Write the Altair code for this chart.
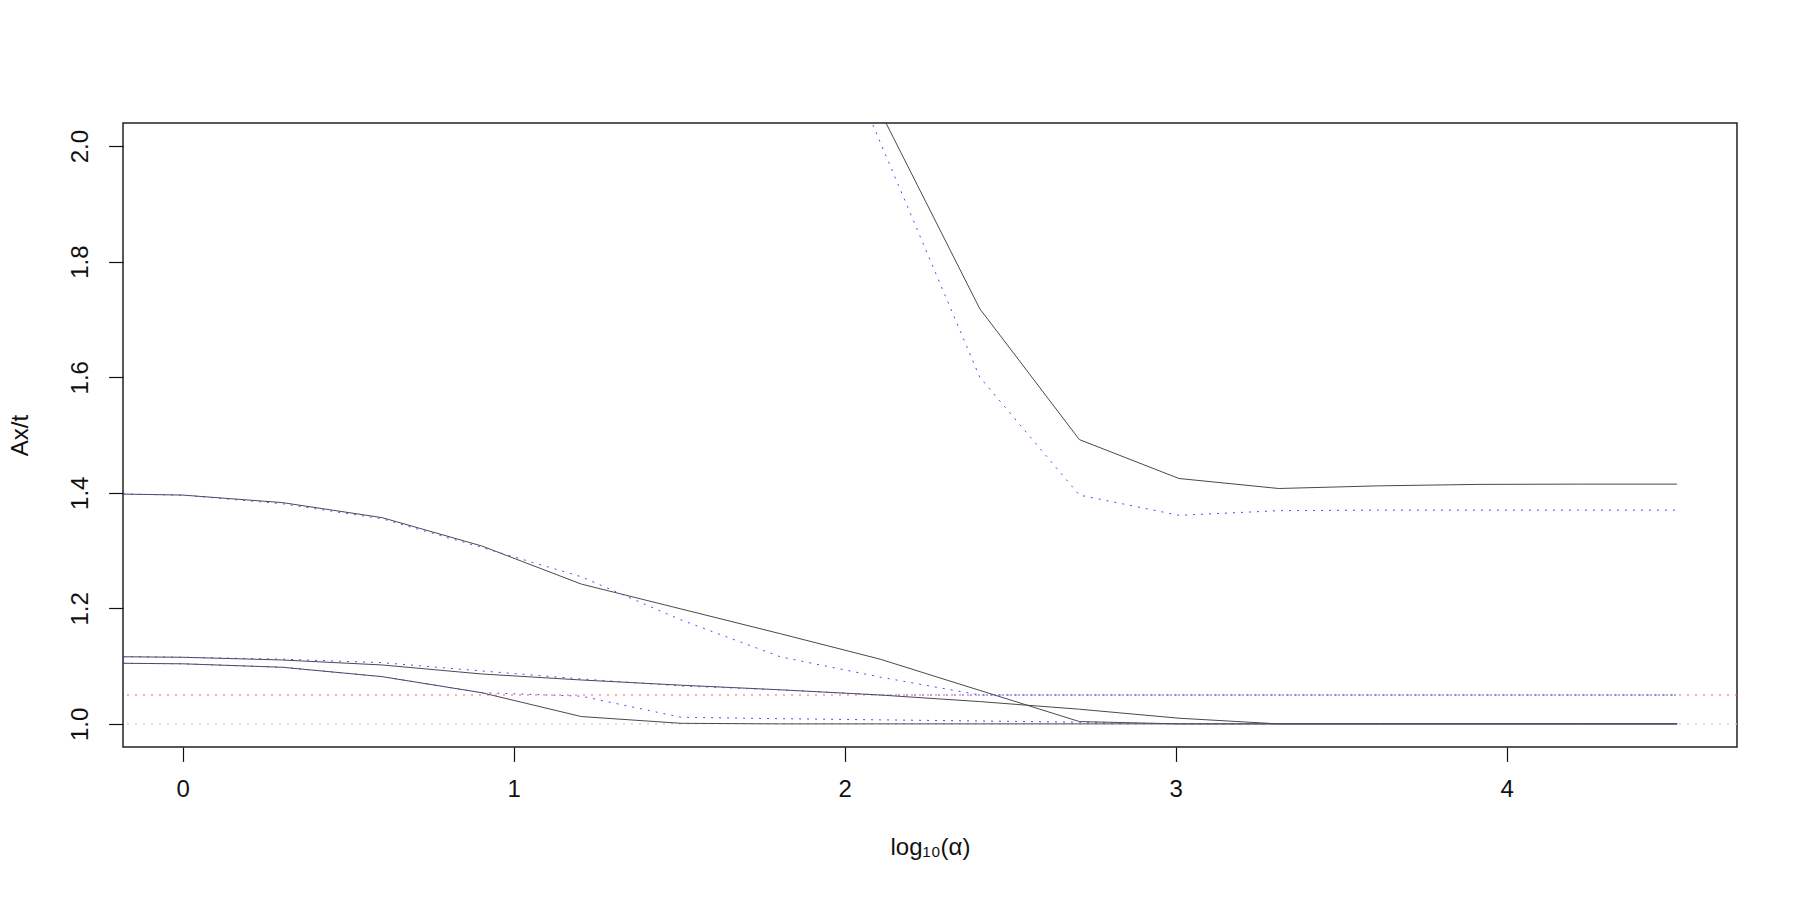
import altair as alt
import pandas as pd

# x grid: log10(alpha) for alpha = 2^k, k = -1..15
x_vals = [-0.301, 0.0, 0.301, 0.602, 0.903, 1.204, 1.505, 1.806, 2.107,
          2.408, 2.709, 3.010, 3.311, 3.612, 3.913, 4.214, 4.515]

# solid (black) series
a_solid = [None, None, None, None, None, None, None, None, 2.06,
           1.7186, 1.492, 1.4247, 1.4074, 1.412, 1.4145, 1.415, 1.415]
b_solid = [1.399, 1.396, 1.383, 1.357, 1.308, 1.242, 1.199, 1.156, 1.112,
           1.058, 1.004, 1.0, 1.0, 1.0, 1.0, 1.0, 1.0]
c_solid = [1.1168, 1.1153, 1.1106, 1.102, 1.0864, 1.076, 1.067, 1.059, 1.050,
           1.0386, 1.0254, 1.0098, 1.0, 1.0, 1.0, 1.0, 1.0]
d_solid = [1.1055, 1.104, 1.098, 1.0818, 1.054, 1.0127, 1.001, 1.0, 1.0,
           1.0, 1.0, 1.0, 1.0, 1.0, 1.0, 1.0, 1.0]

# dotted (blue) series
a_dot = [None, None, None, None, None, None, None, 2.42, 2.007,
         1.600, 1.396, 1.361, 1.369, 1.37, 1.37, 1.37, 1.37]
b_dot = [1.399, 1.396, 1.381, 1.355, 1.3055, 1.2547, 1.18, 1.116, 1.081,
         1.050, 1.05, 1.05, 1.05, 1.05, 1.05, 1.05, 1.05]
c_dot = [1.1168, 1.1153, 1.112, 1.106, 1.0916, 1.0778, 1.0657, 1.0588, 1.05,
         1.05, 1.05, 1.05, 1.05, 1.05, 1.05, 1.05, 1.05]
d_dot = [1.1055, 1.104, 1.098, 1.0818, 1.054, 1.048, 1.0115, 1.009, 1.007,
         1.005, 1.003, 1.0, 1.0, 1.0, 1.0, 1.0, 1.0]

ref_values = [1.0, 1.05]
ref_colors = ["#c8c8c8", "#ff5a5a"]

x_ticks = [0, 1, 2, 3, 4]
y_ticks = [1.0, 1.2, 1.4, 1.6, 1.8, 2.0]


def long(series_dict):
    rows = []
    for name, vals in series_dict.items():
        for xv, yv in zip(x_vals, vals):
            if yv is not None:
                rows.append({"x": xv, "y": yv, "s": name})
    return pd.DataFrame(rows)


solid_df = long({"A": a_solid, "B": b_solid, "C": c_solid, "D": d_solid})
dot_df = long({"A": a_dot, "B": b_dot, "C": c_dot, "D": d_dot})
ref_df = pd.DataFrame({"y": ref_values, "c": ref_colors})

xs = alt.Scale(domain=[-0.1806, 4.6959], nice=False, zero=False)
ys = alt.Scale(domain=[0.96, 2.04], nice=False, zero=False)

x_axis = alt.Axis(values=x_ticks, format="d", title="log₁₀(α)",
                  labelBaseline="middle", labelPadding=28,
                  titleY=100, titleBaseline="middle", labelOverlap=False,
                  labelFlush=False)
y_axis = alt.Axis(values=y_ticks, format=".1f", title="Ax/t",
                  labelAngle=270, labelAlign="center", labelBaseline="middle",
                  labelPadding=28, titleAngle=270, titleX=-103, titleY=312,
                  titleAlign="center", titleBaseline="middle",
                  labelOverlap=False, labelFlush=False)

refs = alt.Chart(ref_df).mark_rule(strokeDash=[2, 6], strokeWidth=1.2).encode(
    y=alt.Y("y:Q", scale=ys, axis=y_axis),
    color=alt.Color("c:N", scale=None),
)

solid = alt.Chart(solid_df).mark_line(color="#4a4a4a", strokeWidth=1.0, clip=True).encode(
    x=alt.X("x:Q", scale=xs, axis=x_axis),
    y=alt.Y("y:Q", scale=ys, axis=y_axis),
    detail="s:N",
)

dotted = alt.Chart(dot_df).mark_line(color="#4848ff", strokeWidth=1.0,
                                     strokeDash=[2, 6], clip=True).encode(
    x=alt.X("x:Q", scale=xs, axis=x_axis),
    y=alt.Y("y:Q", scale=ys, axis=y_axis),
    detail="s:N",
)

chart = alt.layer(refs, solid, dotted).properties(
    width=1614, height=624,
    padding={"left": 123, "top": 123, "right": 63, "bottom": 153},
    autosize=alt.AutoSizeParams(type="none"),
    background="white",
).configure_view(
    stroke="#222222", strokeWidth=1.5
).configure_axis(
    grid=False, domain=False, tickColor="#111111", tickSize=14.4, tickWidth=1.2,
    labelFont="Liberation Sans", labelFontSize=24, labelColor="#111111",
    titleFont="Liberation Sans", titleFontSize=24, titleFontWeight="normal",
    titleColor="#111111",
)

chart.save("out.html", embed_options={"renderer": "svg", "actions": False})
